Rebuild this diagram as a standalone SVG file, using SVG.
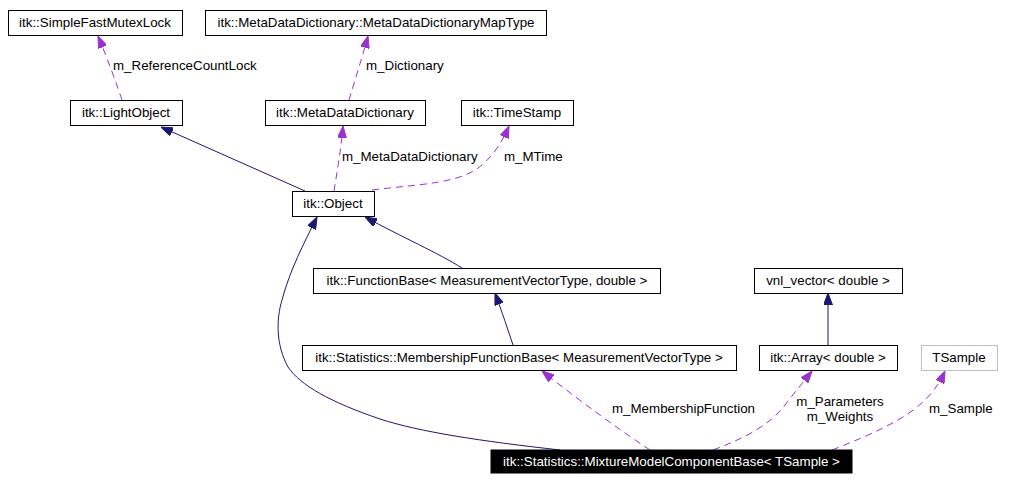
<svg xmlns="http://www.w3.org/2000/svg" width="1030" height="482" viewBox="0 0 1030 482">
<style>
.box{fill:#ffffff;stroke:#000000;stroke-width:1}
.gbox{fill:#ffffff;stroke:#bfbfbf;stroke-width:1}
.bbox{fill:#000000;stroke:#000000;stroke-width:1}
text{font-family:"Liberation Sans",Arial,sans-serif;font-size:13.33px;fill:#000000}
.nt{text-anchor:middle}
.wt{fill:#ffffff}
.inh{fill:none;stroke:#191970;stroke-width:1}
.use{fill:none;stroke:#9a32cd;stroke-width:1;stroke-dasharray:7,5}
</style>
<defs>
<marker id="ah-navy" markerUnits="userSpaceOnUse" markerWidth="12" markerHeight="9" viewBox="0 0 12 9" refX="12" refY="4.5" orient="auto">
<path d="M0,0 L12,4.5 L0,9 z" fill="#191970" stroke="#191970" stroke-width="1"/>
</marker>
<marker id="ah-purple" markerUnits="userSpaceOnUse" markerWidth="12" markerHeight="9" viewBox="0 0 12 9" refX="12" refY="4.5" orient="auto">
<path d="M0,0 L12,4.5 L0,9 z" fill="#9a32cd" stroke="#9a32cd" stroke-width="1"/>
</marker>
</defs>
<g id="connectors">
<path class="use" d="M122,100 C117,85 108,60 98,36" marker-end="url(#ah-purple)"/>
<path class="use" d="M349,100 C355,80 362,58 368,36" marker-end="url(#ah-purple)"/>
<path class="use" d="M334,191 C337,172 341,150 343,126" marker-end="url(#ah-purple)"/>
<path class="use" d="M372,190 C420,184 460,184 482,165 C495,154 503,140 509,126" marker-end="url(#ah-purple)"/>
<path class="inh" d="M305,191 L161,127" marker-end="url(#ah-navy)"/>
<path class="inh" d="M462,268 C440,254 400,236 365,217" marker-end="url(#ah-navy)"/>
<path class="inh" d="M560,450 C480,441 420,432 380,419 C330,402 300,385 288,367 C276,345 276,320 282,300 C290,270 303,245 317,217" marker-end="url(#ah-navy)"/>
<path class="inh" d="M513,345 C508,330 502,312 495,293" marker-end="url(#ah-navy)"/>
<path class="inh" d="M828,345 L828,293" marker-end="url(#ah-navy)"/>
<path class="use" d="M650,450 C620,430 585,405 542,371" marker-end="url(#ah-purple)"/>
<path class="use" d="M713,450 C745,438 770,425 785,405 C795,392 804,381 812,371" marker-end="url(#ah-purple)"/>
<path class="use" d="M832,450 C870,435 905,420 925,400 C935,390 940,382 945,371" marker-end="url(#ah-purple)"/>
<text x="113" y="70">m_ReferenceCountLock</text>
<text x="366" y="70">m_Dictionary</text>
<text x="342" y="161">m_MetaDataDictionary</text>
<text x="504" y="161">m_MTime</text>
<text x="612" y="413">m_MembershipFunction</text>
<text x="840" y="406" class="nt">m_Parameters</text>
<text x="840" y="421" class="nt">m_Weights</text>
<text x="929" y="413">m_Sample</text>
</g>
<g id="n_SimpleFastMutexLock"><rect class="box" x="8.5" y="10.5" width="174" height="25"/><text class="nt" x="95" y="27">itk::SimpleFastMutexLock</text></g>
<g id="n_MetaDataDictionaryMapType"><rect class="box" x="205.5" y="10.5" width="341" height="25"/><text class="nt" x="376" y="27">itk::MetaDataDictionary::MetaDataDictionaryMapType</text></g>
<g id="n_LightObject"><rect class="box" x="70.5" y="100.5" width="112" height="25"/><text class="nt" x="126" y="117">itk::LightObject</text></g>
<g id="n_MetaDataDictionary"><rect class="box" x="265.5" y="100.5" width="160" height="25"/><text class="nt" x="345" y="117">itk::MetaDataDictionary</text></g>
<g id="n_TimeStamp"><rect class="box" x="461.5" y="100.5" width="112" height="25"/><text class="nt" x="517" y="117">itk::TimeStamp</text></g>
<g id="n_Object"><rect class="box" x="292.5" y="191.5" width="82" height="25"/><text class="nt" x="333" y="208">itk::Object</text></g>
<g id="n_FunctionBase"><rect class="box" x="313.5" y="268.5" width="347" height="25"/><text class="nt" x="487" y="285">itk::FunctionBase&lt; MeasurementVectorType, double &gt;</text></g>
<g id="n_vnl_vector"><rect class="box" x="754.5" y="268.5" width="148" height="25"/><text class="nt" x="828" y="285">vnl_vector&lt; double &gt;</text></g>
<g id="n_MembershipFunctionBase"><rect class="box" x="302.5" y="345.5" width="434" height="25"/><text class="nt" x="519" y="362">itk::Statistics::MembershipFunctionBase&lt; MeasurementVectorType &gt;</text></g>
<g id="n_Array"><rect class="box" x="759.5" y="345.5" width="138" height="25"/><text class="nt" x="828" y="362">itk::Array&lt; double &gt;</text></g>
<g id="n_TSample"><rect class="gbox" x="921.5" y="345.5" width="76" height="25"/><text class="nt" x="959" y="362">TSample</text></g>
<g id="n_MixtureModelComponentBase"><rect class="bbox" x="491" y="450" width="361" height="23"/><text class="nt wt" x="671.5" y="466">itk::Statistics::MixtureModelComponentBase&lt; TSample &gt;</text></g>
</svg>
